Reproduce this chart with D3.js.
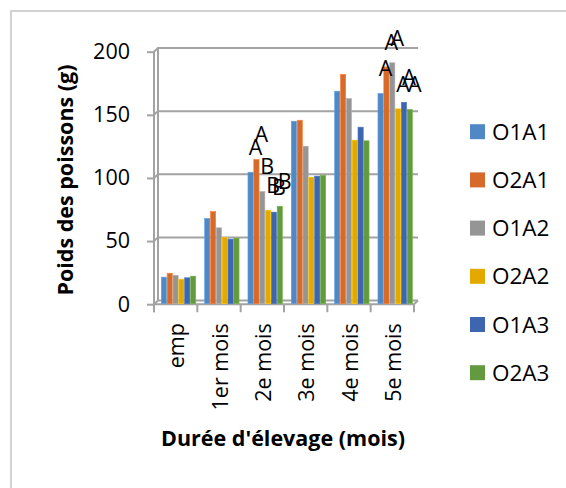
<!DOCTYPE html>
<html>
<head>
<meta charset="utf-8">
<script src="https://cdn.jsdelivr.net/npm/d3@7"></script>
<style>
  html, body { margin: 0; padding: 0; background: #fff; }
  svg { display: block; }
  text { font-family: "Open Sans", sans-serif; fill: #000; }
</style>
</head>
<body>
<svg id="chart" width="566" height="488"></svg>
<script>
// ---- data ----
const categories = ["emp", "1er mois", "2e mois", "3e mois", "4e mois", "5e mois"];
const seriesNames = ["O1A1", "O2A1", "O1A2", "O2A2", "O1A3", "O2A3"];
const O1A1 = [18.5, 65.0, 101.6, 142.0, 165.8, 164.0];
const O2A1 = [21.6, 70.5, 111.7, 142.8, 179.1, 185.0];
const O1A2 = [20.0, 57.6, 86.3, 122.2, 160.0, 188.3];
const O2A2 = [16.9, 50.1, 71.5, 97.7, 127.0, 151.8];
const O1A3 = [18.0, 48.6, 70.0, 98.5, 137.3, 157.0];
const O2A3 = [19.3, 49.4, 74.7, 99.2, 126.5, 151.3];
const yTicks = [0, 50, 100, 150, 200];
// significance letters (per series) for the "2e mois" and "5e mois" groups
const letters2e = ["A", "A", "B", "B", "B", "B"];
const letters5e = ["A", "A", "A", "A", "A", "A"];
const yTitle = "Poids des poissons (g)";
const xTitle = "Durée d'élevage (mois)";

const seriesValues = [O1A1, O2A1, O1A2, O2A2, O1A3, O2A3];
const colors = ["#4f88c4", "#d56a2a", "#959595", "#e3a900", "#3e65b0", "#63993f"];

const svg = d3.select("#chart");
const gridColor = "#a3a3a3";

// outer frame
svg.append("rect").attr("x", 11).attr("y", 11).attr("width", 620).attr("height", 620)
  .attr("fill", "none").attr("stroke", "#c4c4c4").attr("stroke-width", 1.5);

// scales: back wall (gridlines / bar tops) and front (axis ticks) with a small 3D offset
const depthX = 4, depthY = 3.7;
const y = d3.scaleLinear().domain([0, 200]).range([300.5, 48]);
const yFront = v => y(v) + depthY;
const xFront = d3.scaleBand().domain(categories).range([154, 414]).padding(0);
const x0 = d3.scaleBand().domain(categories).range([157, 417]).padding(0);
const x1 = d3.scaleBand().domain(seriesNames).range([4, x0.bandwidth() - 4.3]).padding(0);

const g = svg.append("g");

// back wall gridlines with slanted joins to the front ticks
yTicks.forEach(t => {
  g.append("path")
    .attr("d", `M${xFront.range()[0]},${yFront(t)} L${xFront.range()[0] + depthX},${y(t)} L${xFront.range()[1] + depthX},${y(t)}`)
    .attr("fill", "none").attr("stroke", gridColor).attr("stroke-width", 2);
});
// back wall left edge
g.append("line").attr("x1", xFront.range()[0] + depthX).attr("x2", xFront.range()[0] + depthX)
  .attr("y1", y(200)).attr("y2", y(0)).attr("stroke", gridColor).attr("stroke-width", 2);
// floor front edge + right slant
g.append("path")
  .attr("d", `M${xFront.range()[0]},${yFront(0)} L${xFront.range()[1]},${yFront(0)} L${xFront.range()[1] + depthX},${y(0)}`)
  .attr("fill", "none").attr("stroke", gridColor).attr("stroke-width", 2);

// bars
const groups = g.selectAll("g.cat").data(categories).join("g")
  .attr("class", "cat").attr("transform", c => `translate(${x0(c)},0)`);
groups.selectAll("rect").data((c, ci) => seriesNames.map((s, si) => ({ s, si, v: seriesValues[si][ci] })))
  .join("rect")
  .attr("x", d => x1(d.s) + 0.3)
  .attr("width", x1.bandwidth() - 0.6)
  .attr("y", d => y(d.v))
  .attr("height", d => yFront(0) - y(d.v) - 0.5)
  .attr("fill", d => colors[d.si])
  .attr("stroke", d => d3.color(colors[d.si]).brighter(0.5))
  .attr("stroke-width", 0.6);

// front y axis
const yAxis = d3.axisLeft(d3.scaleLinear().domain([0, 200]).range([yFront(0), yFront(200)]))
  .tickValues(yTicks).tickSize(7).tickPadding(17);
const ya = svg.append("g").attr("transform", `translate(${xFront.range()[0]},0)`).call(yAxis);
ya.select(".domain").remove();
ya.selectAll(".tick line").attr("stroke", gridColor).attr("stroke-width", 2);
ya.selectAll(".tick text").attr("font-size", 21.5).attr("font-family", "'Open Sans', sans-serif").attr("fill", "#000");
svg.append("line").attr("x1", xFront.range()[0]).attr("x2", xFront.range()[0])
  .attr("y1", yFront(200)).attr("y2", yFront(0) + 8).attr("stroke", gridColor).attr("stroke-width", 2);

// category boundary ticks
const bounds = categories.map(c => xFront(c)).concat([xFront.range()[1]]);
svg.selectAll("line.ctick").data(bounds).join("line").attr("class", "ctick")
  .attr("x1", d => d).attr("x2", d => d)
  .attr("y1", yFront(0)).attr("y2", yFront(0) + 8)
  .attr("stroke", gridColor).attr("stroke-width", 2);

// category labels (rotated)
svg.selectAll("text.cat").data(categories).join("text").attr("class", "cat")
  .attr("transform", c => `translate(${xFront(c) + xFront.bandwidth() / 2 + 1},${yFront(0) + 19}) rotate(-90)`)
  .attr("text-anchor", "end").attr("dy", "0.36em")
  .attr("font-size", 21.5).text(c => c);

// significance letters
function addLetters(cat, letters) {
  const ci = categories.indexOf(cat);
  svg.selectAll(null).data(letters).join("text")
    .attr("x", (t, si) => x0(cat) + x1(seriesNames[si]) + x1.bandwidth() / 2 + 5)
    .attr("y", (t, si) => y(seriesValues[si][ci]) - 25)
    .attr("dy", "0.36em")
    .attr("text-anchor", "middle")
    .attr("font-size", 21.5).text(t => t);
}
addLetters("2e mois", letters2e);
addLetters("5e mois", letters5e);

// axis titles
svg.append("text").attr("transform", `translate(65,180) rotate(-90)`)
  .attr("text-anchor", "middle").attr("dy", "0.36em")
  .attr("font-size", 21.5).attr("font-weight", "bold").text(yTitle);
svg.append("text").attr("x", 283).attr("y", 438).attr("dy", "0.36em")
  .attr("text-anchor", "middle").attr("font-size", 21.5).attr("font-weight", "bold").text(xTitle);

// legend
const legend = svg.append("g").attr("transform", "translate(470,0)");
const ly = d3.scalePoint().domain(seriesNames).range([131.7, 372.7]);
legend.selectAll("rect").data(seriesNames).join("rect")
  .attr("x", 0).attr("y", s => ly(s) - 7.5).attr("width", 15).attr("height", 15)
  .attr("fill", (s, i) => colors[i]);
legend.selectAll("text").data(seriesNames).join("text")
  .attr("x", 22).attr("y", s => ly(s)).attr("dy", "0.36em")
  .attr("font-size", 22.5).text(s => s);
</script>
</body>
</html>
